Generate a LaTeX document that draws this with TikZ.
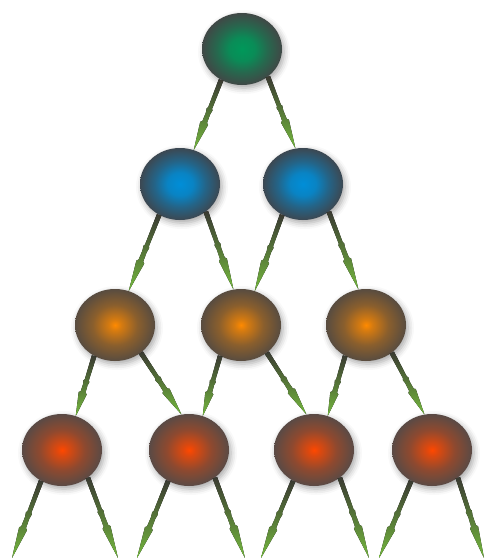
\documentclass[tikz,border=0pt]{standalone}
\usetikzlibrary{shapes.geometric,calc,shadows.blur}
\definecolor{gcen}{HTML}{00985A}
\definecolor{gedge}{HTML}{404846}
\colorlet{gmid}{gcen!85!gedge}
\colorlet{gmid2}{gcen!40!gedge}
\definecolor{bcen}{HTML}{008ED8}
\definecolor{bedge}{HTML}{3C4852}
\colorlet{bmid}{bcen!85!bedge}
\colorlet{bmid2}{bcen!40!bedge}
\definecolor{ocen}{HTML}{FF8A00}
\definecolor{oedge}{HTML}{584C40}
\colorlet{omid}{ocen!75!oedge}
\colorlet{omid2}{ocen!30!oedge}
\definecolor{rcen}{HTML}{FF4800}
\definecolor{redge}{HTML}{5A4A45}
\colorlet{rmid}{rcen!78!redge}
\colorlet{rmid2}{rcen!32!redge}
\definecolor{conndark}{HTML}{3A3A32}
\definecolor{connmid}{HTML}{628646}
\definecolor{conngreen}{HTML}{74B83E}
\pgfdeclareradialshading{ballgreen}{\pgfpoint{0bp}{0bp}}{color(0bp)=(gcen); color(8bp)=(gmid); color(16bp)=(gmid2); color(25bp)=(gedge); color(50bp)=(gedge)}
\pgfdeclareradialshading{ballblue}{\pgfpoint{0bp}{0bp}}{color(0bp)=(bcen); color(8bp)=(bmid); color(16bp)=(bmid2); color(25bp)=(bedge); color(50bp)=(bedge)}
\pgfdeclareradialshading{ballorange}{\pgfpoint{0bp}{0bp}}{color(0bp)=(ocen); color(4bp)=(omid); color(14bp)=(omid2); color(25bp)=(oedge); color(50bp)=(oedge)}
\pgfdeclareradialshading{ballred}{\pgfpoint{0bp}{0bp}}{color(0bp)=(rcen); color(4bp)=(rmid); color(14bp)=(rmid2); color(25bp)=(redge); color(50bp)=(redge)}
\newcommand\connector[2]{%
  \fill[conn] ($(#1)!0!(#2)!2.4pt!90:(#2)$)
    -- ($(#1)!0.40!(#2)!2.1pt!90:(#2)$)
    -- ($(#1)!0.42!(#2)!3.1pt!90:(#2)$)
    -- ($(#1)!0.48!(#2)!2.3pt!90:(#2)$)
    -- ($(#1)!0.60!(#2)!2.5pt!90:(#2)$)
    -- ($(#1)!0.62!(#2)!4.2pt!90:(#2)$)
    -- (#2)
    -- ($(#1)!0.62!(#2)!4.2pt!-90:(#2)$)
    -- ($(#1)!0.60!(#2)!2.5pt!-90:(#2)$)
    -- ($(#1)!0.48!(#2)!2.3pt!-90:(#2)$)
    -- ($(#1)!0.42!(#2)!3.1pt!-90:(#2)$)
    -- ($(#1)!0.40!(#2)!2.1pt!-90:(#2)$)
    -- ($(#1)!0!(#2)!2.4pt!-90:(#2)$)
    -- cycle;}
\begin{document}
\begin{tikzpicture}[x=1pt,y=-1pt,
  ball/.style={ellipse, minimum width=80pt, minimum height=72pt, inner sep=0pt,
    shade, blur shadow={shadow xshift=2pt, shadow yshift=-3pt, shadow blur radius=6pt, shadow opacity=35}},
  greenball/.style={ball, shading=ballgreen},
  blueball/.style={ball, shading=ballblue},
  orangeball/.style={ball, shading=ballorange},
  redball/.style={ball, shading=ballred},
  conn/.style={top color=conndark, middle color=connmid, bottom color=conngreen}]
\useasboundingbox (0,0) rectangle (486,558);
\node[greenball] (t) at (242,49) {};
\node[blueball] (b1) at (180,184) {};
\node[blueball] (b2) at (303,184) {};
\node[orangeball] (o1) at (115,325) {};
\node[orangeball] (o2) at (241,325) {};
\node[orangeball] (o3) at (366,325) {};
\node[redball] (r1) at (62,450) {};
\node[redball] (r2) at (189,450) {};
\node[redball] (r3) at (314,450) {};
\node[redball] (r4) at (432,450) {};
\coordinate (e1l) at (12,558);
\coordinate (e1r) at (118,558);
\coordinate (e2l) at (137,558);
\coordinate (e2r) at (245,558);
\coordinate (e3l) at (261,558);
\coordinate (e3r) at (369,558);
\coordinate (e4l) at (379,558);
\coordinate (e4r) at (484,558);
\connector{t.236}{b1.68}
\connector{t.313}{b2.102}
\connector{b1.236}{o1.68}
\connector{b1.313}{o2.102}
\connector{b2.236}{o2.68}
\connector{b2.313}{o3.102}
\connector{o1.236}{r1.68}
\connector{o1.313}{r2.102}
\connector{o2.236}{r2.68}
\connector{o2.313}{r3.102}
\connector{o3.236}{r3.68}
\connector{o3.313}{r4.102}
\connector{r1.236}{e1l}
\connector{r1.313}{e1r}
\connector{r2.236}{e2l}
\connector{r2.313}{e2r}
\connector{r3.236}{e3l}
\connector{r3.313}{e3r}
\connector{r4.236}{e4l}
\connector{r4.313}{e4r}
\end{tikzpicture}
\end{document}
